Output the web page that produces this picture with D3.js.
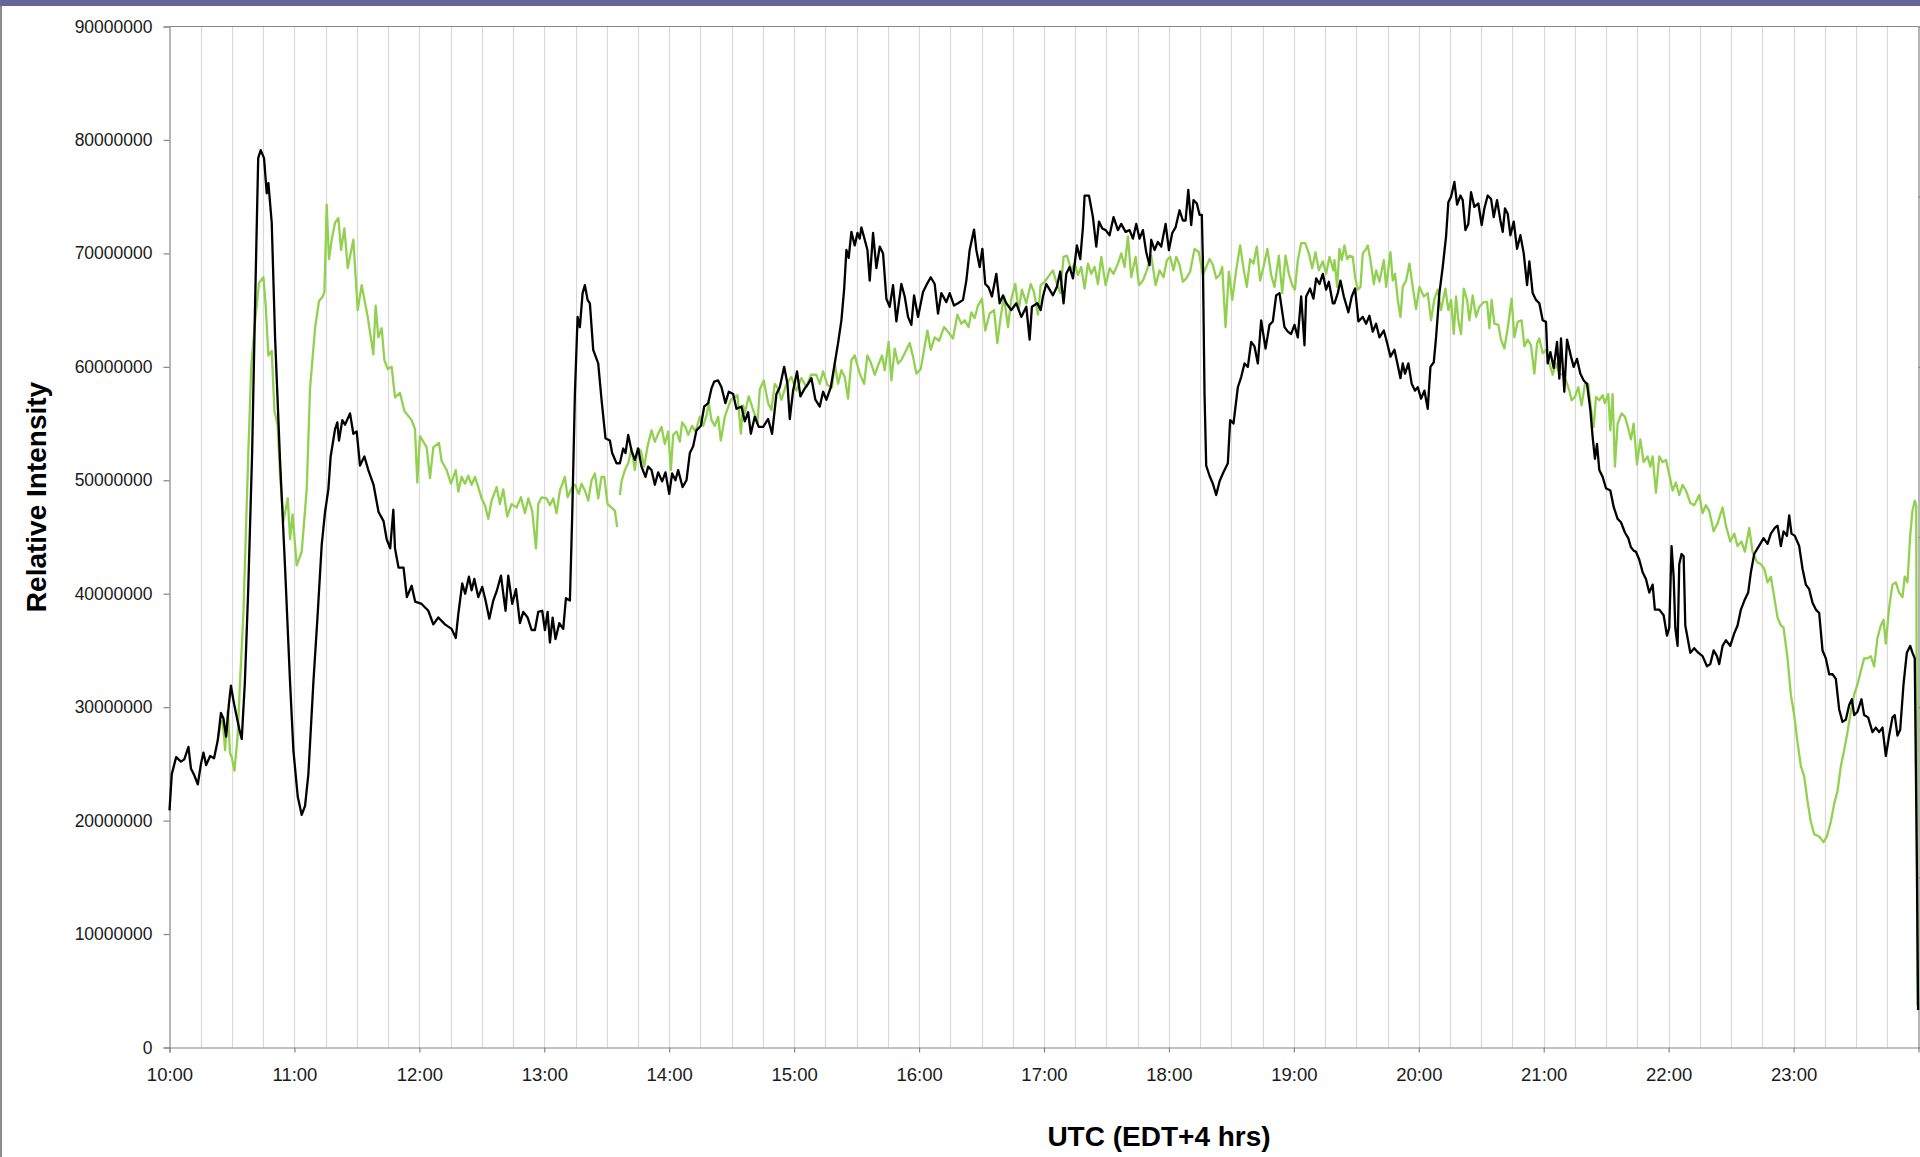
<!DOCTYPE html>
<html>
<head>
<meta charset="utf-8">
<script src="https://cdn.jsdelivr.net/npm/d3@7"></script>
<style>
  html, body { margin: 0; padding: 0; background: #fff; }
  svg { display: block; }
  .tick text { font-family: "Liberation Sans", Arial, sans-serif; fill: #1a1a1a; }
</style>
</head>
<body>
<svg id="chart" width="1920" height="1157"></svg>
<script>
// Time axis runs in minutes after 10:00 UTC; intensities are in millions.
const hourLabels = ["10:00","11:00","12:00","13:00","14:00","15:00","16:00",
                    "17:00","18:00","19:00","20:00","21:00","22:00","23:00"];
const intensityTicks = [0, 10000000, 20000000, 30000000, 40000000, 50000000,
                        60000000, 70000000, 80000000, 90000000];
// Secondary (right-hand) axis divisions
const secondaryDivisions = 6;

// Black trace: [minute, intensity (millions)]
const darkTrace = [
  [0,20.9],[1.1,24.1],[3.2,25.6],[5.5,25.2],[7.1,25.4],[9.1,26.5],[10.3,24.6],[11.9,24.0],
  [13.6,23.2],[15.1,25.0],[16.3,26.0],[17.6,24.9],[19.5,25.7],[21.4,25.5],[23.2,27.1],[24.7,29.5],
  [25.9,29.0],[27.2,27.4],[28.5,30.2],[29.5,31.9],[30.7,30.6],[32.0,29.4],[33.6,28.0],[34.7,27.2],
  [36.2,32.2],[37.8,40.3],[39.7,52.5],[41.0,64.6],[42.6,78.4],[43.8,79.1],[45.4,78.4],[46.7,75.3],
  [47.5,76.2],[49.1,72.7],[50.7,62.6],[53.1,51.7],[55.5,42.3],[57.9,32.2],[59.5,26.2],[61.6,22.1],
  [63.5,20.5],[65.1,21.3],[66.7,24.1],[69.1,32.2],[71.2,38.3],[73.1,44.3],[74.7,47.2],[76.3,49.2],
  [77.4,52.1],[79.5,54.5],[80.6,55.1],[81.4,53.5],[83.0,55.3],[84.3,54.9],[86.7,55.9],[88.3,54.1],
  [89.9,54.3],[91.5,51.3],[93.6,52.1],[95.5,50.9],[98.0,49.6],[100.4,47.2],[102.8,46.4],[104.3,44.8],
  [106.0,44.0],[107.5,47.4],[108.3,44.0],[110.0,42.3],[112.4,42.3],[114.0,39.7],[116.3,40.7],[118.0,39.3],
  [121.1,39.1],[124.3,38.5],[126.7,37.3],[129.1,37.9],[132.3,37.3],[135.5,36.9],[137.5,36.1],[138.7,38.2],
  [140.6,40.9],[142.0,40.0],[143.8,41.5],[145.1,40.3],[146.4,41.3],[148.3,39.7],[150.2,40.6],[151.8,39.4],
  [153.6,37.8],[155.5,39.4],[157.1,40.2],[159.2,41.6],[160.3,40.0],[161.4,38.5],[162.7,41.6],[164.6,39.1],
  [166.4,40.4],[168.3,37.4],[169.9,38.4],[172.0,37.9],[173.9,36.8],[175.5,36.8],[177.1,38.4],[179.0,38.5],
  [180.3,36.8],[181.6,38.4],[182.7,35.7],[184.0,37.9],[185.4,36.0],[187.2,37.4],[189.1,36.9],[190.4,39.6],
  [192.3,39.4],[193.4,46.8],[194.7,57.6],[196.0,64.4],[197.1,63.5],[198.4,66.5],[199.5,67.2],[200.8,65.9],
  [201.9,65.6],[203.5,61.5],[205.9,60.3],[207.5,57.1],[209.4,53.7],[211.5,53.5],[212.6,52.4],[214.7,51.5],
  [216.3,51.5],[217.9,52.8],[219.0,52.4],[220.3,54.0],[221.9,52.6],[223.5,51.8],[225.1,52.8],[226.7,51.2],
  [228.6,50.3],[229.9,51.2],[231.5,50.9],[233.1,49.6],[234.7,50.7],[236.6,49.9],[238.2,50.7],[240.0,48.8],
  [241.4,50.6],[243.0,50.0],[244.3,50.9],[246.4,49.4],[248.3,50.0],[249.9,52.4],[251.5,53.0],[253.1,54.4],
  [255.2,54.8],[256.8,56.5],[258.7,56.8],[260.3,58.1],[261.6,58.7],[263.5,58.8],[265.1,58.2],[267.0,56.8],
  [268.6,57.8],[270.7,57.6],[272.3,56.3],[274.7,56.5],[276.3,55.2],[277.9,56.0],[279.2,54.1],[281.1,55.6],
  [283.0,54.7],[285.1,54.7],[287.5,55.4],[289.4,54.1],[291.5,57.6],[293.1,58.2],[295.2,60.0],[296.8,58.5],
  [297.9,55.4],[299.5,57.9],[301.4,59.6],[303.0,57.4],[305.1,58.1],[306.7,58.5],[308.3,59.0],[310.2,57.1],
  [312.3,56.5],[313.9,57.8],[315.5,57.1],[317.6,58.2],[319.5,60.3],[321.1,62.1],[322.7,64.1],[324.0,66.8],
  [325.1,70.3],[326.2,69.6],[327.5,71.9],[329.1,70.7],[330.4,71.8],[331.5,71.3],[332.3,72.3],[333.9,71.2],
  [335.2,70.3],[336.3,67.6],[337.9,71.8],[339.5,68.7],[341.1,70.6],[342.7,70.0],[344.3,66.0],[345.9,65.3],
  [347.5,67.2],[349.1,64.0],[351.5,67.3],[353.1,66.2],[354.7,64.4],[356.3,63.7],[357.6,66.3],[359.5,64.4],
  [361.9,66.6],[363.5,67.2],[365.6,67.9],[367.5,67.3],[369.1,64.7],[370.7,66.5],[373.1,65.7],[374.7,66.5],
  [376.8,65.4],[378.7,65.6],[381.1,65.9],[382.7,67.6],[384.3,70.3],[386.4,72.1],[387.5,70.3],[389.1,68.8],
  [390.4,70.4],[391.8,67.3],[393.4,67.0],[395.0,66.2],[397.1,68.2],[398.7,65.6],[400.3,66.3],[401.9,65.6],
  [404.3,65.0],[406.7,65.6],[409.1,64.4],[411.5,65.3],[413.1,62.4],[414.2,65.3],[416.8,65.6],[418.4,65.0],
  [419.5,66.2],[421.1,67.3],[422.7,66.8],[424.3,66.3],[426.2,67.05],[427.8,68.4],[429.4,65.6],[430.7,68.2],
  [432.3,68.8],[433.9,67.8],[435.8,70.7],[437.4,69.5],[438.7,72.3],[439.5,75.1],[441.6,75.1],[442.7,74.0],
  [443.5,73.2],[445.1,70.6],[446.4,72.8],[448.0,72.2],[449.6,72.05],[451.5,71.6],[453.4,73.2],[455.5,72.05],
  [457.1,72.6],[459.2,71.9],[461.1,72.05],[462.7,71.3],[464.3,72.6],[465.9,71.3],[467.5,72.05],[469.1,70.1],
  [470.7,68.96],[471.5,71.2],[473.1,70.3],[474.7,71.0],[476.3,70.6],[478.4,72.6],[480.0,70.3],[481.6,71.8],
  [483.2,72.3],[485.1,73.8],[486.7,72.9],[488.0,72.9],[489.3,75.6],[490.7,72.5],[491.8,74.7],[493.4,74.4],
  [494.7,73.4],[495.8,73.4],[496.3,69.4],[497.1,57.6],[497.9,51.3],[499.5,50.4],[501.1,49.7],[502.7,48.7],
  [504.3,49.9],[505.9,50.6],[508.3,51.5],[509.4,55.3],[511.0,55.0],[513.1,58.2],[514.7,59.1],[516.3,60.3],
  [517.9,60.0],[519.5,62.2],[521.1,61.8],[522.7,60.3],[524.3,64.1],[526.4,61.6],[528.3,63.7],[529.9,64.0],
  [531.5,66.3],[533.1,66.5],[535.5,63.5],[537.1,63.1],[538.7,62.9],[540.3,63.7],[541.9,62.6],[543.5,66.2],
  [545.1,61.9],[545.9,66.2],[547.8,66.9],[549.4,66.0],[550.7,67.8],[552.3,67.3],[553.9,68.2],[555.5,66.8],
  [556.8,67.5],[558.7,65.6],[559.5,65.6],[561.1,66.5],[562.4,67.6],[564.0,66.2],[566.2,64.8],[567.8,66.2],
  [569.4,66.9],[571.0,64.0],[573.1,64.4],[574.7,63.8],[576.3,64.5],[577.9,63.1],[579.5,63.8],[581.1,62.6],
  [583.2,63.2],[584.8,62.1],[586.4,60.9],[588.3,61.5],[589.6,60.4],[591.2,59.0],[592.3,60.3],[593.4,59.4],
  [595.0,60.3],[596.6,58.5],[598.2,57.9],[599.5,58.2],[601.1,57.2],[602.7,57.9],[604.3,56.3],[605.6,60.0],
  [607.2,60.4],[608.3,62.6],[609.9,66.5],[611.5,68.8],[613.1,71.5],[614.2,74.5],[615.5,75.0],[617.1,76.3],
  [618.4,74.3],[620.0,75.1],[621.1,74.7],[622.4,72.05],[623.8,72.6],[625.1,75.4],[626.7,74.1],[628.6,74.4],
  [630.2,72.5],[631.5,73.96],[633.1,75.1],[634.7,74.8],[636.0,73.2],[637.6,74.7],[639.2,72.9],[640.3,71.9],
  [641.4,73.96],[642.7,73.5],[644.0,71.6],[645.6,72.8],[647.2,70.4],[648.8,71.6],[650.4,70.0],[652.0,67.2],
  [653.1,69.3],[654.7,66.5],[656.3,65.9],[657.9,65.6],[659.5,64.1],[661.1,63.96],[661.9,60.3],[663.2,61.3],
  [664.8,59.9],[666.4,62.2],[667.5,58.96],[668.3,62.5],[669.9,57.8],[671.2,62.4],[673.1,60.9],[674.4,60.0],
  [676.0,60.7],[677.6,59.4],[679.2,58.8],[680.8,58.5],[682.4,56.2],[683.5,53.8],[684.6,51.9],[685.6,53.2],
  [686.7,50.9],[688.3,50.3],[689.9,49.3],[692.0,49.1],[693.6,47.65],[695.5,46.6],[697.1,46.3],[699.0,45.4],
  [700.6,44.9],[701.9,44.1],[703.2,43.8],[704.3,43.7],[705.9,43.0],[707.5,41.9],[709.1,41.3],[710.7,40.1],
  [712.3,40.8],[713.4,38.6],[715.5,38.6],[717.6,38.1],[719.2,36.3],[720.3,37.0],[721.4,44.2],[722.4,41.5],
  [723.2,37.0],[724.3,35.4],[725.1,42.6],[726.2,43.5],[727.2,43.3],[728.0,37.2],[729.1,36.1],[730.4,34.8],
  [732.3,35.2],[734.2,34.8],[736.3,34.5],[738.4,33.6],[740.0,33.8],[741.6,35.0],[743.2,34.5],[744.3,33.8],
  [745.9,35.4],[747.5,35.9],[749.6,35.4],[751.5,36.5],[753.1,37.2],[754.7,38.6],[756.6,39.5],[758.2,40.1],
  [759.5,41.9],[761.1,43.5],[762.7,44.0],[764.0,44.4],[765.6,44.9],[767.5,44.4],[769.1,45.3],[771.0,45.8],
  [772.3,46.0],[773.9,44.2],[775.2,45.5],[776.8,45.1],[777.9,46.9],[779.0,45.3],[780.6,45.1],[782.7,44.2],
  [784.3,42.2],[785.9,40.8],[787.5,40.4],[789.1,39.2],[790.7,38.6],[792.3,38.3],[793.9,35.0],[795.5,34.3],
  [797.1,32.9],[798.7,32.9],[800.3,32.5],[801.9,29.8],[803.5,28.7],[805.1,28.9],[806.7,30.2],[808.0,30.7],
  [809.1,29.3],[810.7,29.6],[812.6,30.7],[813.9,29.3],[815.8,29.1],[817.9,27.8],[819.5,28.2],[821.1,27.8],
  [822.7,28.2],[824.3,25.7],[825.9,27.5],[827.5,29.1],[828.6,29.3],[829.9,27.5],[831.2,28.0],[832.8,32.0],
  [834.4,34.8],[836.0,35.4],[837.1,34.8],[838.2,34.3],[839.2,16.3],[839.8,3.3]
];

// Green trace: [minute, intensity (millions)]; null marks the missing reading
const greenTrace = [
  [23.5,27.4],[24.7,28.8],[25.6,28.7],[26.7,26.2],[28.0,29.7],[29.1,25.9],[29.9,25.6],[31.2,24.4],
  [32.7,27.4],[33.9,32.3],[35.5,38.3],[37.8,52.1],[39.3,60.2],[41.0,63.8],[43.0,67.4],[45.1,67.9],
  [46.2,65.4],[47.5,61.0],[49.1,61.4],[50.4,56.1],[51.9,54.9],[53.1,50.5],[54.7,46.4],[56.8,48.4],
  [57.9,44.8],[59.1,47.0],[61.1,42.5],[63.5,43.7],[65.9,49.2],[67.5,58.1],[69.9,63.4],[71.8,65.8],
  [73.6,66.2],[74.4,66.6],[75.5,74.3],[76.6,69.5],[78.0,71.3],[79.5,72.7],[81.1,73.1],[82.4,70.3],
  [84.0,72.2],[85.6,68.7],[88.3,71.2],[90.4,65.0],[92.3,67.2],[95.2,64.4],[97.9,61.1],[99.0,65.4],
  [100.3,62.6],[101.9,63.4],[103.2,60.6],[104.8,59.8],[106.7,60.0],[108.3,57.3],[110.7,57.7],[112.8,56.1],
  [116.3,55.3],[117.9,54.5],[119.0,49.8],[120.3,53.9],[123.5,52.9],[125.1,50.2],[126.7,52.9],[129.4,53.3],
  [130.7,51.7],[133.1,50.9],[135.2,49.7],[137.5,50.9],[138.7,49.0],[140.3,50.3],[141.9,49.7],[143.5,50.4],
  [145.1,49.6],[146.7,50.3],[148.3,49.4],[149.9,48.4],[151.5,47.8],[153.1,46.6],[154.7,48.2],[157.1,49.4],
  [158.7,47.9],[160.3,49.2],[162.2,46.8],[164.3,47.9],[166.7,47.6],[168.8,48.5],[170.7,47.1],[172.3,48.4],
  [174.2,47.3],[176.0,44.0],[177.1,47.9],[178.7,48.5],[181.1,48.4],[182.7,47.8],[184.3,48.4],[185.9,47.1],
  [187.5,49.1],[189.9,50.3],[191.2,48.5],[193.1,49.3],[194.7,49.6],[196.6,48.8],[197.9,49.7],[199.5,49.1],
  [201.1,48.2],[202.7,50.0],[204.3,50.6],[205.9,48.4],[207.5,50.3],[208.8,50.3],[210.4,47.9],[212.3,47.6],
  [213.9,47.3],[215.0,45.9],[215.6,null],[216.3,48.7],[217.1,49.9],[218.7,50.9],[220.3,51.5],[221.9,52.8],
  [223.5,50.9],[224.8,52.8],[226.4,52.6],[228.0,51.2],[229.6,53.0],[231.5,54.4],[233.1,53.4],[234.7,54.1],
  [236.3,54.7],[237.9,53.2],[239.5,54.3],[240.8,50.9],[241.9,54.0],[243.5,54.3],[245.1,53.4],[246.2,55.1],
  [247.8,54.7],[249.1,54.0],[251.0,54.8],[252.6,54.3],[254.7,55.6],[256.3,54.8],[257.9,55.7],[259.0,56.8],
  [260.3,55.3],[261.9,54.8],[263.5,55.6],[264.8,53.5],[266.7,55.6],[268.0,56.3],[269.6,57.1],[271.2,57.3],
  [272.8,57.5],[274.4,54.1],[275.5,56.6],[276.3,55.9],[278.2,57.4],[280.3,56.2],[282.4,55.1],[283.5,58.0],
  [285.4,58.8],[287.5,56.8],[289.1,56.2],[290.7,58.5],[292.3,58.1],[293.9,57.1],[296.3,58.5],[298.7,59.1],
  [301.1,57.9],[303.5,59.0],[305.9,58.2],[308.0,59.3],[310.7,59.3],[312.3,58.5],[313.9,59.6],[316.0,58.4],
  [318.2,58.2],[319.5,60.3],[321.1,58.5],[322.7,59.7],[324.3,59.1],[325.9,57.2],[327.5,60.6],[329.1,61.0],
  [331.5,59.4],[333.6,58.5],[335.2,61.0],[336.8,60.4],[338.7,59.3],[340.3,60.1],[342.2,61.0],[343.5,59.7],
  [345.4,62.2],[346.7,58.8],[348.3,61.6],[349.9,60.3],[351.5,60.6],[353.4,61.3],[355.5,62.1],[357.1,60.9],
  [358.7,59.4],[360.8,59.8],[362.4,61.5],[364.0,63.2],[365.6,61.5],[367.5,62.6],[369.6,62.3],[372.0,63.5],
  [373.9,63.1],[376.3,62.5],[378.4,64.6],[380.3,63.8],[381.9,64.1],[383.8,63.5],[385.1,64.8],[386.7,64.3],
  [388.3,65.4],[390.2,66.0],[391.8,63.2],[393.9,64.7],[396.0,65.0],[397.6,62.1],[399.2,64.4],[400.8,66.2],
  [402.7,63.5],[404.3,66.0],[406.2,67.3],[407.8,65.0],[409.4,66.8],[411.5,65.6],[413.6,67.3],[415.2,66.6],
  [417.1,64.6],[418.4,67.2],[420.3,67.5],[422.7,68.1],[424.3,68.5],[426.2,67.3],[427.8,66.5],[429.4,69.7],
  [431.0,69.8],[433.1,68.5],[434.7,69.1],[436.3,68.1],[437.9,68.8],[439.5,66.9],[441.1,69.1],[442.7,68.2],
  [444.3,68.8],[445.9,67.3],[447.5,69.7],[449.6,67.2],[451.5,68.7],[453.4,68.2],[455.5,69.1],[457.1,70.0],
  [458.7,68.8],[460.3,71.5],[461.9,67.9],[464.0,69.7],[465.6,67.2],[467.5,67.6],[469.4,68.5],[471.5,69.8],
  [473.6,67.2],[475.5,68.5],[477.4,67.9],[479.0,69.4],[480.6,69.7],[482.2,68.5],[483.5,69.7],[485.1,69.0],
  [486.7,67.5],[488.3,67.8],[490.2,68.4],[492.3,70.4],[494.4,70.1],[496.3,68.1],[497.9,68.8],[499.5,69.5],
  [501.1,69.0],[502.7,67.8],[504.3,68.1],[505.6,68.8],[507.2,63.5],[508.8,68.4],[510.4,65.9],[512.3,68.5],
  [514.2,70.7],[515.8,68.7],[517.4,67.05],[519.0,69.5],[520.6,69.1],[522.2,70.6],[523.8,67.6],[525.4,68.8],
  [527.3,70.4],[529.1,68.1],[530.7,67.05],[532.8,69.8],[534.4,66.5],[536.0,69.8],[537.6,68.2],[539.2,67.2],
  [540.5,66.8],[541.9,69.4],[543.5,70.9],[545.4,70.9],[547.2,70.0],[548.8,68.7],[550.4,70.1],[552.0,68.5],
  [553.9,69.3],[555.5,68.2],[557.1,69.7],[559.0,68.5],[559.5,69.4],[560.8,67.05],[561.9,70.4],[563.0,69.4],
  [564.3,70.7],[565.6,69.5],[566.7,69.8],[568.3,69.7],[569.4,67.9],[570.7,66.8],[572.0,67.05],[573.1,70.0],
  [574.7,70.4],[575.5,70.7],[576.8,69.4],[578.4,67.3],[579.5,68.5],[581.1,67.5],[583.2,69.4],[584.3,67.05],
  [586.4,70.1],[587.5,67.6],[588.6,68.2],[589.9,65.9],[591.2,64.4],[592.3,67.05],[593.9,67.6],[595.5,69.1],
  [597.1,67.05],[598.7,65.1],[600.3,67.05],[602.4,66.2],[604.3,66.5],[605.9,64.1],[607.5,66.0],[609.1,66.8],
  [610.7,65.0],[612.8,66.9],[614.2,65.0],[615.5,65.9],[616.8,62.9],[617.9,66.2],[619.0,64.1],[620.3,62.9],
  [621.6,66.9],[623.2,65.9],[624.3,64.1],[625.9,66.3],[627.5,64.4],[629.1,65.3],[631.2,65.7],[632.8,65.7],
  [633.9,63.4],[635.0,65.9],[636.3,63.8],[638.2,63.7],[639.5,62.4],[641.1,61.6],[642.7,63.4],[644.6,66.0],
  [645.9,62.6],[647.5,63.96],[649.4,64.1],[650.7,61.8],[652.3,62.4],[653.9,61.9],[655.5,59.4],[656.8,62.05],
  [657.9,62.5],[659.5,61.2],[661.1,61.5],[662.7,60.3],[664.3,59.3],[665.9,60.3],[667.5,59.4],[669.1,59.3],
  [670.7,58.8],[672.3,57.9],[673.4,57.05],[675.0,57.35],[676.6,58.2],[678.2,56.6],[679.8,58.5],[681.4,58.5],
  [682.7,56.3],[684.0,54.7],[685.1,57.35],[686.7,57.05],[688.3,57.5],[689.4,56.8],[691.0,57.6],[692.0,54.4],
  [693.1,57.6],[694.2,51.2],[695.5,55.0],[697.4,55.9],[699.0,55.6],[700.3,54.8],[701.9,53.6],[703.2,55.0],
  [704.8,51.4],[706.4,53.6],[708.0,51.6],[709.9,52.1],[711.2,51.2],[712.3,52.1],[713.9,48.9],[715.5,52.1],
  [717.1,51.6],[718.7,51.8],[720.3,50.5],[721.9,49.1],[723.5,49.8],[725.1,48.7],[726.7,49.6],[728.3,49.1],
  [730.4,48.0],[732.3,47.8],[734.7,48.7],[736.3,47.1],[737.9,47.8],[739.5,47.3],[741.6,45.5],[743.5,46.2],
  [745.9,47.6],[747.5,46.0],[749.6,44.6],[751.5,45.3],[753.1,44.2],[755.0,44.6],[756.6,43.7],[758.7,45.8],
  [760.3,43.7],[762.4,42.8],[764.3,42.6],[765.9,42.2],[767.5,41.0],[769.1,41.5],[770.7,39.7],[772.3,37.9],
  [773.9,37.2],[775.2,37.0],[777.1,34.3],[778.7,31.1],[780.3,29.3],[781.9,26.9],[783.5,24.8],[785.1,23.9],
  [786.7,21.7],[788.3,19.9],[789.9,18.8],[792.3,18.6],[794.4,18.1],[796.0,18.6],[797.9,19.9],[799.5,21.5],
  [801.1,22.6],[802.7,24.8],[804.3,26.2],[805.9,27.8],[807.5,29.6],[809.1,31.1],[810.7,32.0],[812.3,33.2],
  [813.9,34.3],[815.5,34.3],[817.1,34.5],[818.7,33.6],[820.3,36.1],[821.9,37.2],[823.2,37.7],[824.3,35.6],
  [825.9,38.8],[827.5,40.8],[829.1,41.0],[830.7,40.1],[832.3,39.7],[833.4,41.5],[834.7,41.0],[836.0,45.1],
  [837.1,47.3],[838.2,48.2],[838.9,47.8],[839.5,3.7]
];

const MILLION = 1e6;
const svg = d3.select("#chart");
const W = 1920, H = 1157;
const plot = { left: 169.5, right: 1918.5, top: 26.5, bottom: 1047.5 };

// Page frame: purple band across the top, grey rule down the left side
svg.append("rect").attr("x", 0).attr("y", 0).attr("width", W).attr("height", 6).attr("fill", "#656599");
svg.append("rect").attr("x", 0).attr("y", 6).attr("width", 2).attr("height", H - 6).attr("fill", "#8c8c8c");

const x = d3.scaleLinear().domain([0, 840]).range([plot.left, plot.right]);
const y = d3.scaleLinear().domain([0, 90 * MILLION]).range([plot.bottom, plot.top]);
const ySecondary = d3.scaleLinear().domain([0, secondaryDivisions]).range([plot.bottom, plot.top]);

// Quarter-hour vertical gridlines
const quarterHours = d3.range(15, 840, 15);
svg.append("g").selectAll("line").data(quarterHours).join("line")
  .attr("x1", d => Math.round(x(d)) + 0.5).attr("x2", d => Math.round(x(d)) + 0.5)
  .attr("y1", plot.top).attr("y2", plot.bottom)
  .attr("stroke", "#d9d9d9").attr("stroke-width", 1.2);

// Plot frame on top
svg.append("path")
  .attr("d", `M${plot.left},${plot.top}H${plot.right}`)
  .attr("fill", "none").attr("stroke", "#868686").attr("stroke-width", 1.2);

// Secondary axis along the right edge (its labels fall beyond the page)
const yAxisRight = d3.axisRight(ySecondary).ticks(secondaryDivisions).tickFormat("").tickSize(6);
const gr = svg.append("g").attr("transform", `translate(${plot.right},0)`).call(yAxisRight);
gr.select(".domain").attr("stroke", "#868686").attr("stroke-width", 1.2);
gr.selectAll(".tick line").attr("stroke", "#868686").attr("stroke-width", 1.2);

// Y axis
const yAxis = d3.axisLeft(y).tickValues(intensityTicks).tickFormat(d3.format("d"))
  .tickSize(6).tickPadding(11);
const gy = svg.append("g").attr("transform", `translate(${plot.left},0)`).call(yAxis);
gy.select(".domain").attr("stroke", "#868686").attr("stroke-width", 1.2);
gy.selectAll(".tick line").attr("stroke", "#868686").attr("stroke-width", 1.2);
gy.selectAll(".tick text").style("font-size", "17.5px");

// X axis, hourly ticks
const hourTicks = hourLabels.map((_, i) => i * 60);
const xAxis = d3.axisBottom(x).tickValues(hourTicks).tickFormat((d, i) => hourLabels[i])
  .tickSize(5).tickPadding(15);
const gx = svg.append("g").attr("transform", `translate(0,${plot.bottom})`).call(xAxis);
gx.select(".domain").attr("stroke", "#868686").attr("stroke-width", 1.2);
gx.selectAll(".tick line").attr("stroke", "#868686").attr("stroke-width", 1.2);
gx.selectAll(".tick text").style("font-size", "18.5px");

// Series lines
const line = d3.line()
  .defined(d => d[1] !== null)
  .x(d => x(d[0]))
  .y(d => y(d[1] * MILLION));

svg.append("path").datum(greenTrace)
  .attr("d", line).attr("fill", "none")
  .attr("stroke", "#92d050").attr("stroke-width", 2.3).attr("stroke-linejoin", "round");

svg.append("path").datum(darkTrace)
  .attr("d", line).attr("fill", "none")
  .attr("stroke", "#000").attr("stroke-width", 2.3).attr("stroke-linejoin", "round");

// Axis titles
svg.append("text")
  .attr("transform", "translate(46,497) rotate(-90)")
  .attr("text-anchor", "middle")
  .style("font-family", "'Liberation Sans', Arial, sans-serif")
  .style("font-weight", "bold").style("font-size", "28px").style("fill", "#000")
  .text("Relative Intensity");

svg.append("text")
  .attr("x", 1159).attr("y", 1146)
  .attr("text-anchor", "middle")
  .style("font-family", "'Liberation Sans', Arial, sans-serif")
  .style("font-weight", "bold").style("font-size", "28px").style("fill", "#000")
  .text("UTC (EDT+4 hrs)");
</script>
</body>
</html>
